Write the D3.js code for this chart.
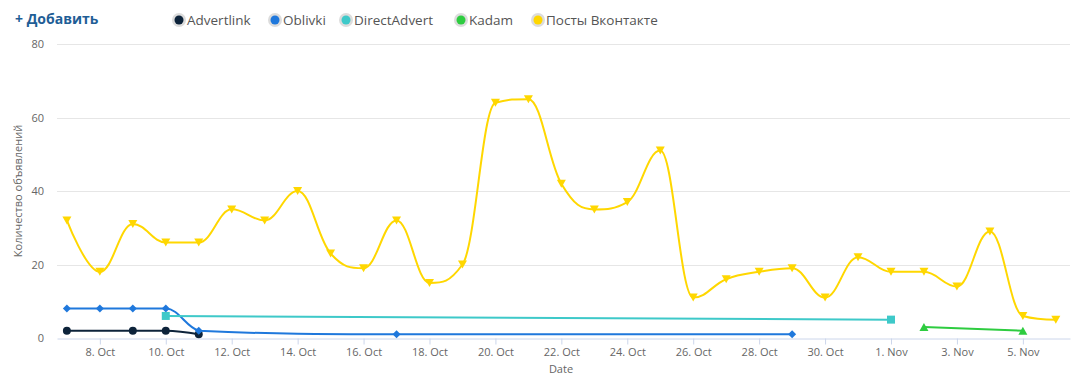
<!DOCTYPE html>
<html>
<head>
<meta charset="utf-8">
<script src="https://cdn.jsdelivr.net/npm/d3@7"></script>
<style>
  body { margin: 0; background: #fff; font-family: "Open Sans", sans-serif; }
</style>
</head>
<body>
<div id="chart"></div>
<script>
// Days counted from 1 Oct (so 7 = 7. Oct, 32 = 1. Nov)
const yellowDays = [7, 8, 9, 10, 11, 12, 13, 14, 15, 16, 17, 18, 19, 20, 21, 22, 23, 24, 25, 26, 27, 28, 29, 30, 31, 32, 33, 34, 35, 36, 37];
const yellowVals = [32, 18, 31, 26, 26, 35, 32, 40, 23, 19, 32, 15, 20, 64, 65, 42, 35, 37, 51, 11, 16, 18, 19, 11, 22, 18, 18, 14, 29, 6, 5];
const advertlinkDays = [7, 9, 10, 11];
const advertlinkVals = [2, 2, 2, 1];
const oblivkiDays = [7, 8, 9, 10, 11, 17, 29];
const oblivkiVals = [8, 8, 8, 8, 2, 1, 1];
const directDays = [10, 32];
const directVals = [6, 5];
const kadamDays = [33, 36];
const kadamVals = [3, 2];

const xTickDays = [8, 10, 12, 14, 16, 18, 20, 22, 24, 26, 28, 30, 32, 34, 36];
const xTickLabels = ["8. Oct", "10. Oct", "12. Oct", "14. Oct", "16. Oct", "18. Oct", "20. Oct", "22. Oct", "24. Oct", "26. Oct", "28. Oct", "30. Oct", "1. Nov", "3. Nov", "5. Nov"];
const yTicks = [0, 20, 40, 60, 80];

const series = [
  { name: "Advertlink", color: "#0d233a", symbol: "circle", days: advertlinkDays, vals: advertlinkVals },
  { name: "Oblivki", color: "#1f78dc", symbol: "diamond", days: oblivkiDays, vals: oblivkiVals },
  { name: "DirectAdvert", color: "#3ec9c9", symbol: "square", days: directDays, vals: directVals },
  { name: "Kadam", color: "#2ecc40", symbol: "triangle", days: kadamDays, vals: kadamVals },
  { name: "Посты Вконтакте", color: "#ffd700", symbol: "triangle-down", days: yellowDays, vals: yellowVals }
];

const width = 1075, height = 376;
const margin = { top: 44, right: 5, bottom: 38, left: 57 };

const svg = d3.select("#chart").append("svg")
  .attr("width", width)
  .attr("height", height);

const x = d3.scaleLinear()
  .domain([6.70, 37.43])
  .range([margin.left, width - margin.right]);

const y = d3.scaleLinear()
  .domain([0, 80])
  .range([height - margin.bottom, margin.top]);

// Spline in the style of the original charting tool
function SplineCurve(context) { this._context = context; }
SplineCurve.prototype = {
  areaStart() {}, areaEnd() {},
  lineStart() { this._pts = []; },
  point(px, py) { this._pts.push([+px, +py]); },
  lineEnd() {
    const p = this._pts, c = this._context, s = 1.5, den = s + 1;
    if (!p.length) return;
    const ctrl = p.map((pt, i) => {
      if (i === 0 || i === p.length - 1) return null;
      const [lx, ly] = p[i - 1], [px, py] = pt, [nx, ny] = p[i + 1];
      const lcx = (s * px + lx) / den;
      let lcy = (s * py + ly) / den;
      const rcx = (s * px + nx) / den;
      let rcy = (s * py + ny) / den;
      let corr = 0;
      if (rcx !== lcx) corr = ((rcy - lcy) * (rcx - px)) / (rcx - lcx) + py - rcy;
      lcy += corr; rcy += corr;
      if (lcy > ly && lcy > py) { lcy = Math.max(ly, py); rcy = 2 * py - lcy; }
      else if (lcy < ly && lcy < py) { lcy = Math.min(ly, py); rcy = 2 * py - lcy; }
      if (rcy > ny && rcy > py) { rcy = Math.max(ny, py); lcy = 2 * py - rcy; }
      else if (rcy < ny && rcy < py) { rcy = Math.min(ny, py); lcy = 2 * py - rcy; }
      return { lcx, lcy, rcx, rcy };
    });
    c.moveTo(p[0][0], p[0][1]);
    for (let i = 1; i < p.length; i++) {
      const a = ctrl[i - 1], b = ctrl[i];
      c.bezierCurveTo(
        a ? a.rcx : p[i - 1][0], a ? a.rcy : p[i - 1][1],
        b ? b.lcx : p[i][0], b ? b.lcy : p[i][1],
        p[i][0], p[i][1]);
    }
  }
};
const splineCurve = context => new SplineCurve(context);

// Grid lines
svg.append("g")
  .selectAll("line")
  .data(yTicks.filter(d => d > 0))
  .enter().append("line")
  .attr("x1", margin.left)
  .attr("x2", width - margin.right)
  .attr("y1", d => Math.round(y(d)) + 0.5)
  .attr("y2", d => Math.round(y(d)) + 0.5)
  .attr("stroke", "#e6e6e6")
  .attr("stroke-width", 1);

// Y axis labels
const yAxis = d3.axisLeft(y).tickValues(yTicks).tickSize(0).tickPadding(13);
const yg = svg.append("g")
  .attr("transform", `translate(${margin.left},0)`)
  .call(yAxis);
yg.select(".domain").remove();
yg.selectAll("text")
  .style("font-family", "Open Sans, sans-serif")
  .style("font-size", "11px")
  .style("fill", "#666");

// X axis
const xAxis = d3.axisBottom(x)
  .tickValues(xTickDays)
  .tickFormat((d, i) => xTickLabels[i])
  .tickSize(6)
  .tickSizeOuter(0)
  .tickPadding(4);
const xg = svg.append("g")
  .attr("transform", `translate(0,${Math.round(y(0)) + 0.5})`)
  .call(xAxis);
xg.select(".domain").attr("stroke", "#ccd6eb");
xg.selectAll(".tick line").attr("stroke", "#ccd6eb");
xg.selectAll("text")
  .style("font-family", "Open Sans, sans-serif")
  .style("font-size", "11px")
  .style("fill", "#666");

// Axis titles
svg.append("text")
  .attr("transform", `translate(22,${(margin.top + height - margin.bottom) / 2}) rotate(-90)`)
  .attr("text-anchor", "middle")
  .style("font-size", "11px")
  .style("fill", "#666")
  .text("Количество объявлений");

svg.append("text")
  .attr("x", 561)
  .attr("y", 373)
  .attr("text-anchor", "middle")
  .style("font-size", "11px")
  .style("fill", "#666")
  .text("Date");

// Symbols
const symbolPath = {
  "circle": d3.symbol(d3.symbolCircle, 50)(),
  "square": "M-4,-4H4V4H-4Z",
  "diamond": "M0,-4L4,0L0,4L-4,0Z",
  "triangle": "M0,-4L4.5,4H-4.5Z",
  "triangle-down": "M-4.5,-4H4.5L0,4Z"
};

const line = d3.line()
  .x(d => x(d.day))
  .y(d => y(d.val))
  .curve(splineCurve);

series.forEach(s => {
  const pts = s.days.map((d, i) => ({ day: d, val: s.vals[i] }));
  const g = svg.append("g");
  g.append("path")
    .datum(pts)
    .attr("d", line)
    .attr("fill", "none")
    .attr("stroke", s.color)
    .attr("stroke-width", 2);
  g.selectAll("path.marker")
    .data(pts)
    .enter().append("path")
    .attr("class", "marker")
    .attr("d", symbolPath[s.symbol])
    .attr("transform", d => `translate(${x(d.day)},${y(d.val)})`)
    .attr("fill", s.color);
});

// Header: add link
svg.append("text")
  .attr("x", 15)
  .attr("y", 24)
  .style("font-size", "14px")
  .style("font-weight", "bold")
  .style("fill", "#1f5e96")
  .text("+ Добавить");

// Legend
const legendX = [179, 275, 346, 461, 538];
const legend = svg.append("g")
  .selectAll("g")
  .data(series)
  .enter().append("g")
  .attr("transform", (d, i) => `translate(${legendX[i]},20)`);
legend.append("circle")
  .attr("r", 7)
  .attr("fill", "#dcdcdc");
legend.append("circle")
  .attr("r", 4.5)
  .attr("fill", d => d.color);
legend.append("text")
  .attr("x", 8)
  .attr("y", 4.5)
  .style("font-size", "13.5px")
  .style("fill", "#555")
  .text(d => d.name);
</script>
</body>
</html>
